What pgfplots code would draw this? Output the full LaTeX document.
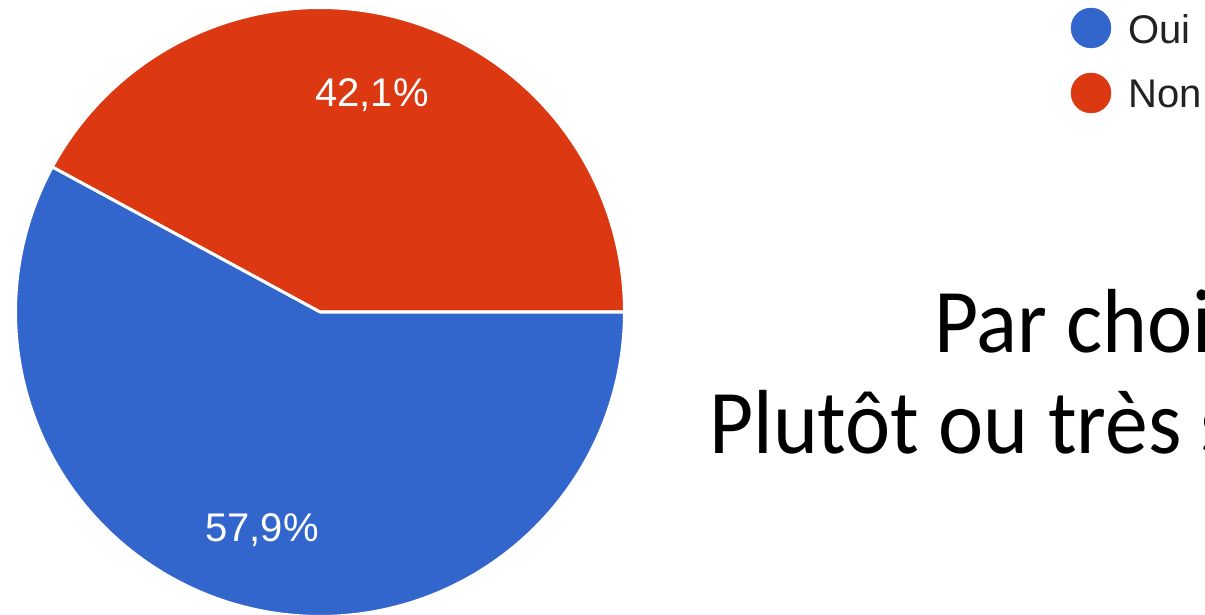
\documentclass[border=0pt]{standalone}
\usepackage{fontspec}
\setmainfont{Liberation Sans}
\newfontfamily\calib{Carlito}
\usepackage{pgfplots}
\usepackage{pgfplotstable}
\pgfplotsset{compat=1.18}
\definecolor{pieBlue}{HTML}{3366CC}
\definecolor{pieRed}{HTML}{DC3912}
\definecolor{legText}{HTML}{222222}

\pgfplotstableread{
label value
Oui 57.9
Non 42.1
}\piedata
\pgfplotstablegetelem{0}{value}\of\piedata \let\vOui\pgfplotsretval
\pgfplotstablegetelem{1}{value}\of\piedata \let\vNon\pgfplotsretval
\pgfmathsetmacro\aNon{3.6*\vNon}

\begin{document}
\begin{tikzpicture}
\useasboundingbox (0,0) rectangle (1205pt,614pt);
\clip (0,0) rectangle (1205pt,614pt);
\begin{axis}[at={(0,0)}, anchor=south west, x=1pt, y=1pt,
  xmin=0, xmax=1205, ymin=0, ymax=614, scale only axis, hide axis, clip=false]
% Non slice (red), from 0 deg counter-clockwise
\addplot[fill=pieRed, draw=white, line width=3pt, line join=round, domain=0:\aNon, samples=200]
  ({320+304.5*cos(x)},{302+304.5*sin(x)}) -- (axis cs:320,302) -- cycle;
% Oui slice (blue)
\addplot[fill=pieBlue, draw=white, line width=3pt, line join=round, domain=\aNon:360, samples=200]
  ({320+304.5*cos(x)},{302+304.5*sin(x)}) -- (axis cs:320,302) -- cycle;
% percentage labels
\node[white, font=\fontsize{40}{48}\selectfont] at (axis cs:372,519) {42,1\%};
\node[white, font=\fontsize{40}{48}\selectfont] at (axis cs:262,84) {57,9\%};
% legend
\addplot[only marks, mark=*, mark size=20pt, color=pieBlue] coordinates {(1091,586)};
\addplot[only marks, mark=*, mark size=20pt, color=pieRed] coordinates {(1091,521)};
\node[anchor=base west, inner sep=0pt, text=legText, font=\fontsize{40}{48}\selectfont] at (axis cs:1128,570) {Oui};
\node[anchor=base west, inner sep=0pt, text=legText, font=\fontsize{40}{48}\selectfont] at (axis cs:1128,506) {Non};
% side text
\node[anchor=base west, inner sep=0pt, xscale=0.94, font=\calib\fontsize{91}{101}\selectfont] at (axis cs:934,262) {Par choix};
\node[anchor=base west, inner sep=0pt, xscale=0.94, font=\calib\fontsize{91}{101}\selectfont] at (axis cs:709,161) {Plutôt ou très satisfaits};
\end{axis}
\end{tikzpicture}
\end{document}
